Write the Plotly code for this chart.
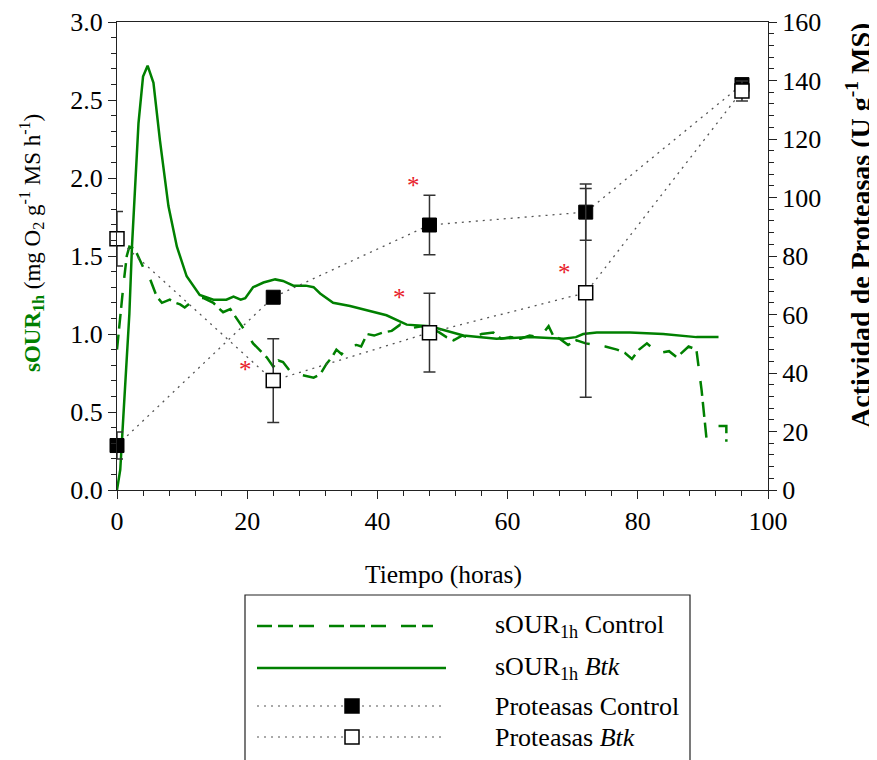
import plotly.graph_objects as go

# ---------------- data ----------------
t_btk = [0, 0.5, 1.0, 1.9, 2.3, 2.8, 3.3, 4.0, 4.7, 5.6, 6.6, 7.9, 9.2, 10.7, 12.7,
         14.8, 16.8, 17.9, 19.0, 19.7, 20.9, 22.5, 24.3, 25.5, 27.1, 29.0, 30.2, 31.2,
         33.2, 35.8, 37.8, 41.4, 44.5, 48.1, 53.2, 58.3, 63.4, 68.6, 70.5, 71.6, 73.7,
         78.8, 83.9, 89.0, 92.4]
sour_btk = [0, 0.13, 0.49, 1.13, 1.56, 1.99, 2.35, 2.65, 2.72, 2.61, 2.24, 1.82, 1.56,
            1.37, 1.25, 1.22, 1.22, 1.24, 1.22, 1.23, 1.30, 1.33, 1.35, 1.34, 1.31, 1.31,
            1.30, 1.26, 1.20, 1.18, 1.16, 1.12, 1.06, 1.05, 0.99, 0.97, 0.98, 0.97, 0.98,
            1.00, 1.01, 1.01, 1.00, 0.98, 0.98]

t_ctl = [0, 0.5, 1.0, 1.5, 1.9, 2.5, 3.0, 4.0, 5.1, 6.1, 6.9, 8.1, 9.0, 9.7, 10.4, 11.3,
         12.2, 13.3, 14.8, 15.5, 16.3, 17.4, 18.9, 20.0, 20.9, 22.0, 23.0, 24.0, 24.8,
         25.5, 26.6, 28.1, 29.2, 30.2, 31.2, 32.2, 33.0, 33.7, 34.5, 35.5, 36.8, 37.5,
         38.4, 39.5, 40.9, 42.2, 43.5, 44.5, 45.5, 46.8, 48.1, 49.5, 50.6, 51.7, 53.0,
         54.7, 56.0, 57.8, 59.0, 60.4, 62.0, 63.4, 65.0, 66.3, 67.0, 68.0, 69.3, 70.6,
         72.0, 73.7, 75.0, 76.8, 78.0, 79.1, 80.2, 81.4, 82.5, 83.4, 84.8, 86.0, 87.0,
         87.8, 89.0, 89.8, 90.6, None, 92.4, 93.6, 93.6]
sour_ctl = [0.90, 1.12, 1.32, 1.50, 1.56, 1.55, 1.52, 1.43, 1.35, 1.24, 1.20, 1.22, 1.20,
            1.19, 1.17, 1.20, 1.23, 1.23, 1.20, 1.17, 1.14, 1.16, 1.07, 1.00, 0.94, 0.89,
            0.85, 0.79, 0.83, 0.82, 0.76, 0.74, 0.73, 0.72, 0.74, 0.81, 0.85, 0.90, 0.87,
            0.92, 0.93, 0.92, 1.00, 0.99, 1.01, 1.02, 1.06, 1.03, 1.04, 1.05, 1.04, 1.01,
            0.98, 0.96, 0.99, 0.97, 1.00, 1.01, 0.97, 0.98, 0.97, 0.99, 0.98, 1.05, 0.99,
            0.97, 0.93, 0.96, 0.94, 0.93, 0.92, 0.90, 0.88, 0.84, 0.90, 0.94, 0.90, 0.88,
            0.89, 0.85, 0.89, 0.92, 0.90, 0.64, 0.31, None, 0.41, 0.41, 0.31]

t_prot = [0, 24, 48, 72, 96]
prot_ctl = [15.2, 65.9, 90.6, 95.0, 138.6]
prot_ctl_err = [4.6, 1.5, 10.2, 9.6, 1.5]
prot_btk = [85.9, 37.4, 53.8, 67.4, 136.4]
prot_btk_err = [9.3, 14.3, 13.5, 35.7, 3.4]

star_t = [19.8, 43.4, 45.5, 68.7]
star_y = [43.3, 68.0, 106.0, 76.4]

legend_labels = ["sOUR<sub>1h</sub> Control", "sOUR<sub>1h</sub> <i>Btk</i>",
                 "Proteasas Control", "Proteasas <i>Btk</i>"]

# ---------------- style ----------------
GREEN = "#008000"
FONT = "Liberation Serif"
FS = 26
DASH = "15px,6px,15px,6px,15px,15px"
DOT = "2px,5px"
AX = "#222222"

OFF = 8                      # page body margin of the html page
W, H = 877 - OFF, 760 - OFF
L, R, T, B = 117 - OFF, 768 - OFF, 22 - OFF, 490 - OFF


def px(x):   # page pixel -> paper x
    return (x - OFF - L) / (R - L)


def py(y):   # page pixel -> paper y
    return (B - (y - OFF)) / (B - T)


fig = go.Figure()

fig.add_trace(go.Scatter(x=t_ctl, y=sour_ctl, mode="lines", connectgaps=False,
                         line=dict(color=GREEN, width=2.5, dash=DASH),
                         showlegend=False, yaxis="y"))
fig.add_trace(go.Scatter(x=t_btk, y=sour_btk, mode="lines",
                         line=dict(color=GREEN, width=2.5),
                         showlegend=False, yaxis="y"))

fig.add_trace(go.Scatter(x=t_prot, y=prot_ctl, mode="lines+markers", yaxis="y2",
                         line=dict(color="#555555", width=1.3, dash=DOT),
                         marker=dict(symbol="square", size=14, color="black",
                                     line=dict(color="black", width=1)),
                         error_y=dict(type="data", array=prot_ctl_err, color="#333333",
                                      thickness=1.5, width=6),
                         cliponaxis=False, showlegend=False))
fig.add_trace(go.Scatter(x=t_prot, y=prot_btk, mode="lines+markers", yaxis="y2",
                         line=dict(color="#555555", width=1.3, dash=DOT),
                         marker=dict(symbol="square", size=14, color="white",
                                     line=dict(color="black", width=1.5)),
                         error_y=dict(type="data", array=prot_btk_err, color="#333333",
                                      thickness=1.5, width=6),
                         cliponaxis=False, showlegend=False))

annotations = []
for xs, ys in zip(star_t, star_y):
    annotations.append(dict(x=xs, y=ys, xref="x", yref="y2", text="*", showarrow=False,
                            font=dict(family=FONT, size=25, color="#e8202a"),
                            xanchor="center", yanchor="middle", yshift=-6))

# axis titles
annotations.append(dict(
    x=px(31), y=py(243), xref="paper", yref="paper", textangle=-90, showarrow=False,
    text="<span style='color:%s'><b>sOUR<sub>1h</sub></b></span> (mg O<sub>2</sub> g<sup>-1</sup> MS h<sup>-1</sup>)" % GREEN,
    font=dict(family=FONT, size=23, color="black"), xanchor="center", yanchor="middle"))
annotations.append(dict(
    x=px(858), y=py(226), xref="paper", yref="paper", textangle=-90, showarrow=False,
    text="<b>Actividad de Proteasas (U g<sup>-1</sup> MS)</b>",
    font=dict(family=FONT, size=28, color="black"), xanchor="center", yanchor="middle"))
annotations.append(dict(
    x=px(443), y=py(574), xref="paper", yref="paper", showarrow=False,
    text="Tiempo (horas)", font=dict(family=FONT, size=25.5, color="black"),
    xanchor="center", yanchor="middle"))

# custom legend
shapes = [dict(type="rect", xref="paper", yref="paper", x0=px(245), x1=px(690),
               y0=py(595), y1=py(780), line=dict(color=AX, width=1.2),
               fillcolor="rgba(0,0,0,0)")]
rows_y = [626, 668, 706, 737]
shapes.append(dict(type="line", xref="paper", yref="paper", x0=px(257), x1=px(433),
                   y0=py(rows_y[0]), y1=py(rows_y[0]),
                   line=dict(color=GREEN, width=2.5, dash=DASH)))
shapes.append(dict(type="line", xref="paper", yref="paper", x0=px(257), x1=px(446),
                   y0=py(rows_y[1]), y1=py(rows_y[1]),
                   line=dict(color=GREEN, width=2.5)))
for i, fill in [(2, "black"), (3, "white")]:
    shapes.append(dict(type="line", xref="paper", yref="paper", x0=px(257), x1=px(446),
                       y0=py(rows_y[i]), y1=py(rows_y[i]),
                       line=dict(color="#555555", width=1.2, dash=DOT)))
    shapes.append(dict(type="rect", xref="paper", yref="paper", x0=px(345), x1=px(359),
                       y0=py(rows_y[i] + 7), y1=py(rows_y[i] - 7),
                       line=dict(color="black", width=1.5), fillcolor=fill))
for lab, ry in zip(legend_labels, rows_y):
    annotations.append(dict(x=px(493), y=py(ry), xref="paper", yref="paper",
                            text=lab, showarrow=False, xanchor="left", yanchor="middle",
                            font=dict(family=FONT, size=FS, color="black")))

axis_common = dict(showgrid=False, zeroline=False, showline=True, linecolor=AX,
                   linewidth=1.2, ticks="outside", ticklen=8, tickwidth=1.2, tickcolor=AX,
                   automargin=False,
                   tickfont=dict(family=FONT, size=FS, color="black"))

fig.update_layout(
    template="none",
    width=W, height=H, autosize=False,
    margin=dict(l=L, r=W - R, t=T, b=H - B, pad=0, autoexpand=False),
    paper_bgcolor="white", plot_bgcolor="white",
    font=dict(family=FONT, size=FS, color="black"),
    showlegend=False,
    xaxis=dict(range=[0, 100], tick0=0, dtick=20, mirror=True,
               minor=dict(dtick=4, ticks="outside", ticklen=5, tickcolor=AX, tickwidth=1.2),
               **axis_common),
    yaxis=dict(range=[0, 3], tick0=0, dtick=0.5, tickformat=".1f",
               minor=dict(dtick=0.1, ticks="outside", ticklen=5, tickcolor=AX, tickwidth=1.2),
               **axis_common),
    yaxis2=dict(range=[0, 160], tick0=0, dtick=20, overlaying="y", side="right",
                minor=dict(dtick=4, ticks="outside", ticklen=5, tickcolor=AX, tickwidth=1.2),
                **axis_common),
    annotations=annotations,
    shapes=shapes,
)

fig.write_html("out.html")
